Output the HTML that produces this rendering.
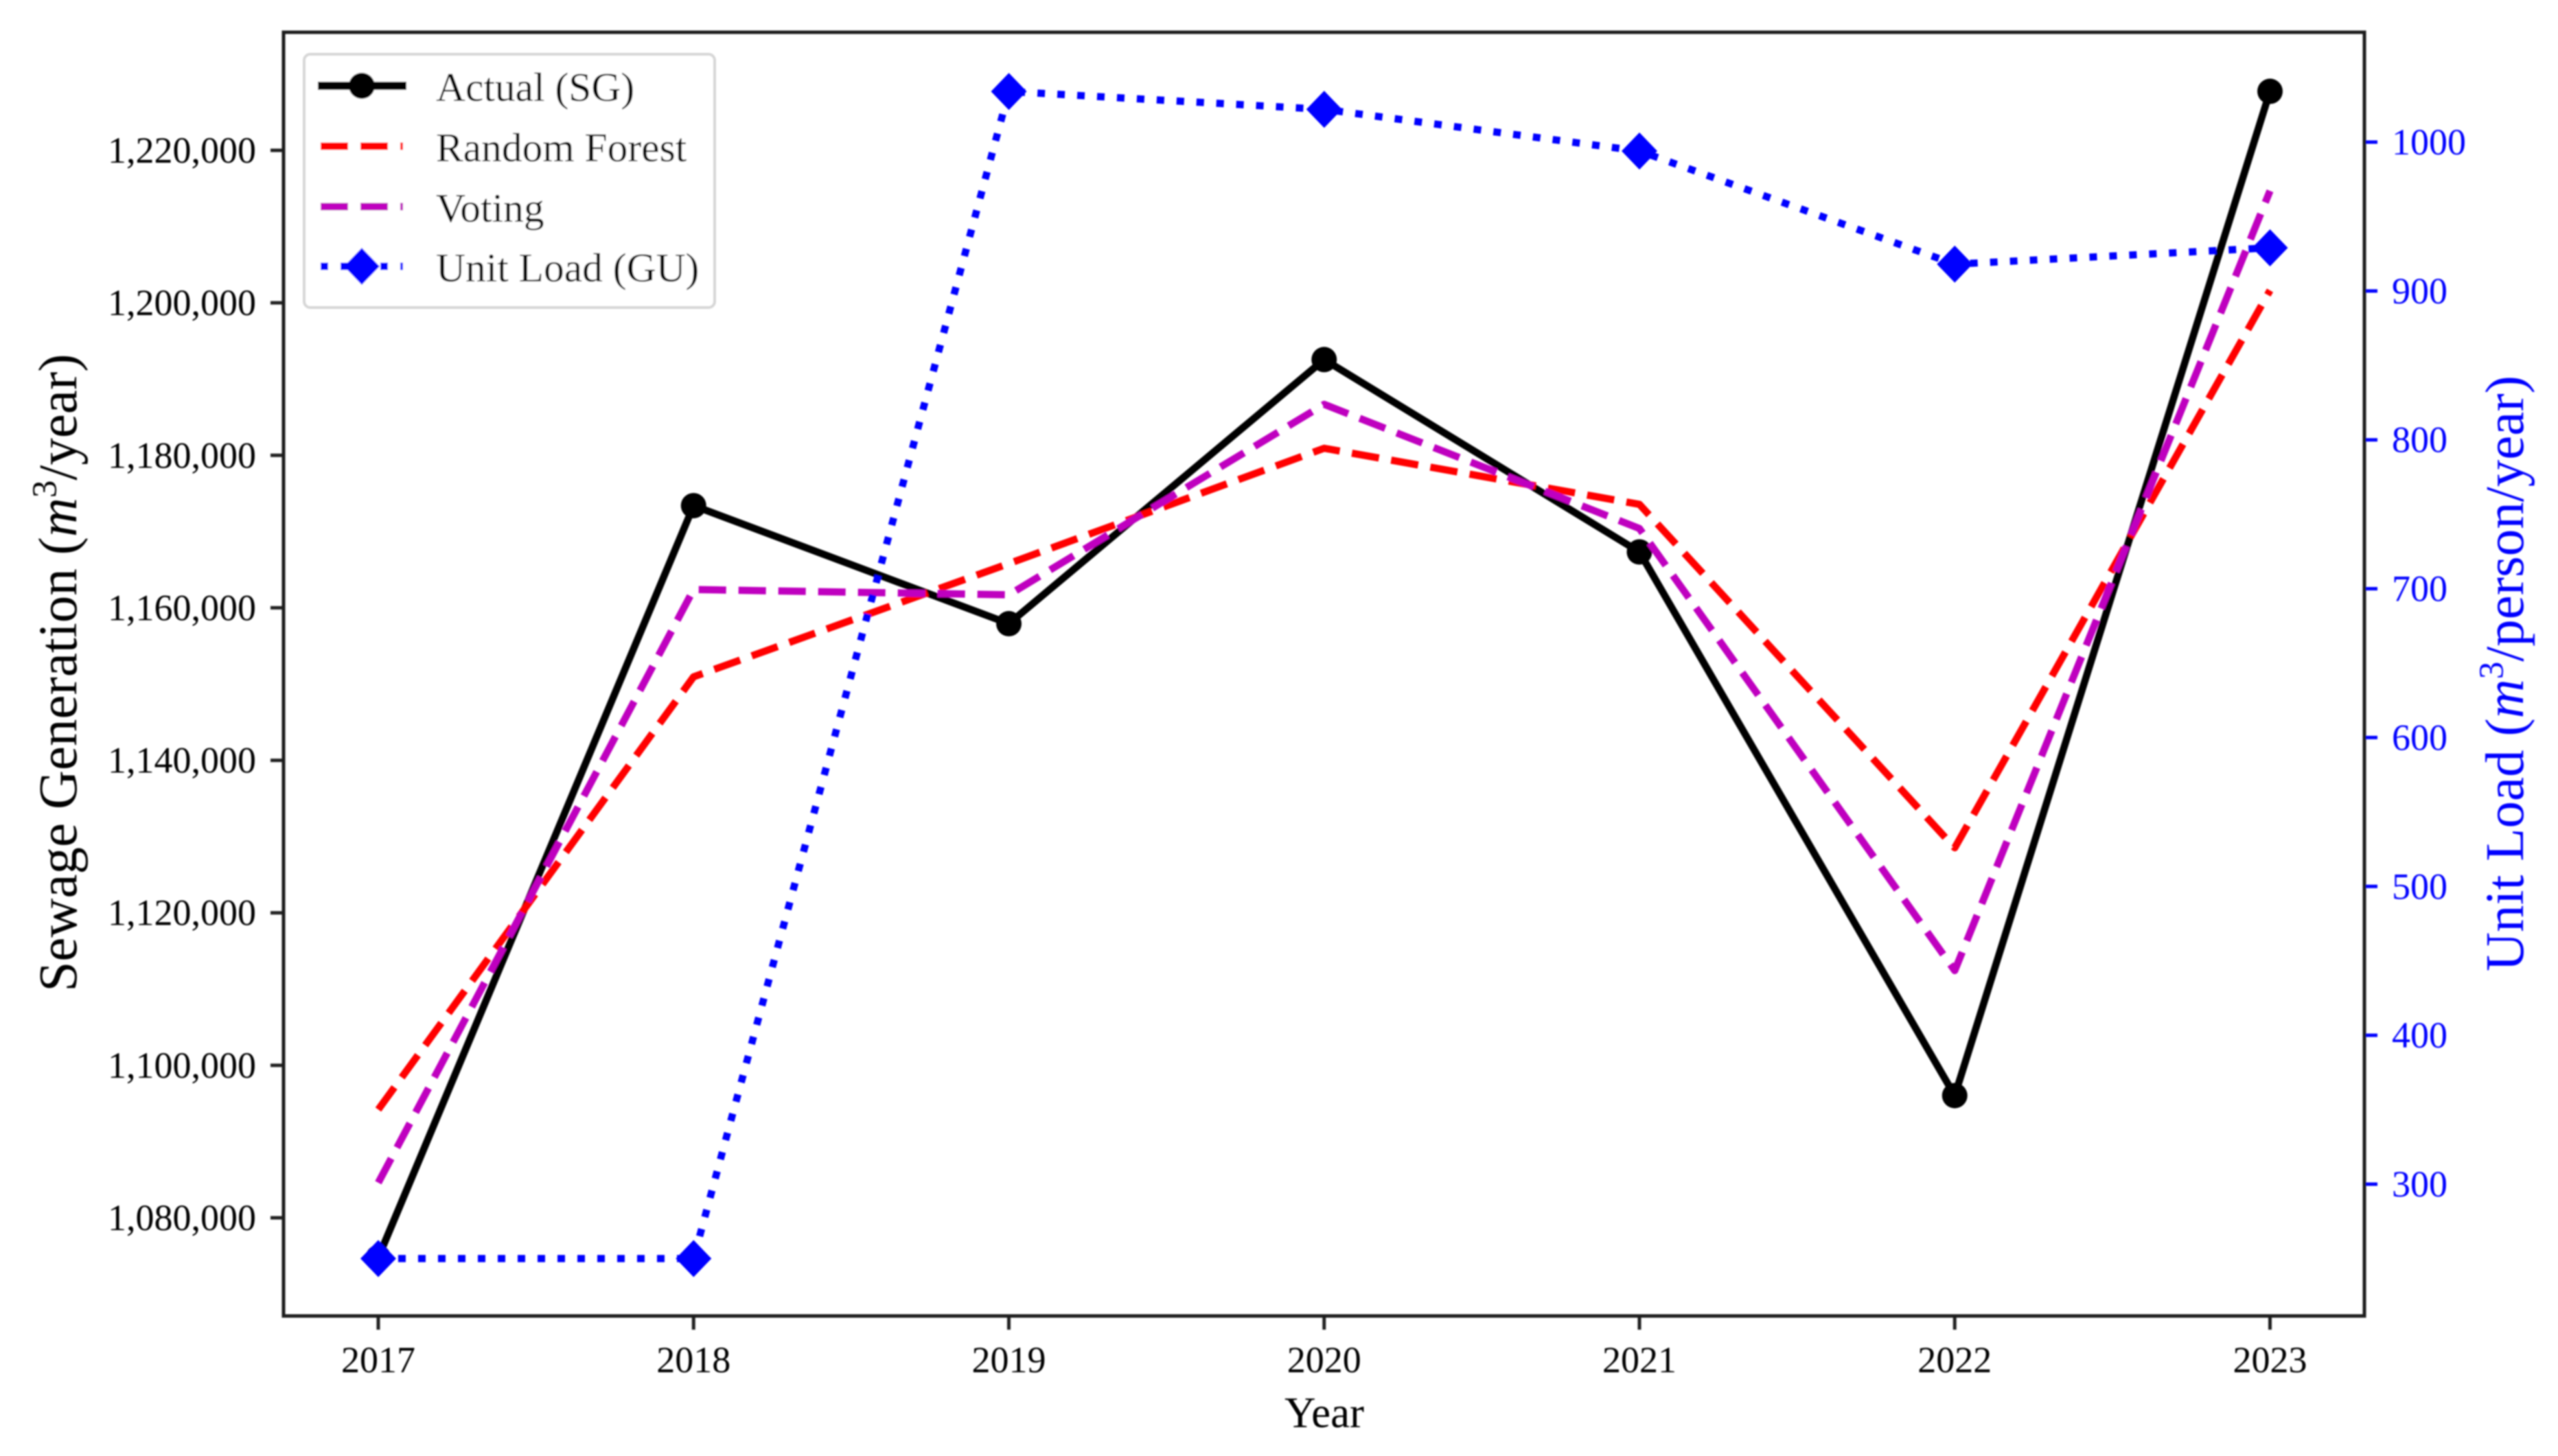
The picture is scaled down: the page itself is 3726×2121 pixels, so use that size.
<!DOCTYPE html>
<html lang="en">
<head>
<meta charset="utf-8">
<title>Sewage Generation and Unit Load, 2017-2023</title>
<style>
html,body{margin:0;padding:0;background:#fff;width:3726px;height:2121px;overflow:hidden}
svg{display:block}
text{font-family:"Liberation Serif","Times New Roman",serif}
</style>
</head>
<body>
<svg id="chart" xmlns="http://www.w3.org/2000/svg" width="3726" height="2121" viewBox="0 0 3726 2121">
<defs>
<filter id="soft" x="0" y="0" width="100%" height="100%" filterUnits="userSpaceOnUse" primitiveUnits="userSpaceOnUse">
<feGaussianBlur stdDeviation="1"/>
</filter>
</defs>
<rect width="3726" height="2121" fill="#fff"/>
<g id="root" filter="url(#soft)">
<g id="series-layer"></g>
<g id="axis-layer"></g>
<text x="1929" y="2079" font-size="63" text-anchor="middle" fill="#000">Year</text>
<text transform="translate(111,980) rotate(-90)" font-size="79" text-anchor="middle" fill="#000">Sewage Generation (<tspan font-style="italic">m</tspan><tspan font-size="51" dy="-29">3</tspan><tspan dy="29">/year)</tspan></text>
<text transform="translate(3675,981) rotate(-90)" font-size="79" text-anchor="middle" fill="#0000ff">Unit Load (<tspan font-style="italic">m</tspan><tspan font-size="51" dy="-29">3</tspan><tspan dy="29">/person/year)</tspan></text>
<g>
<rect x="443" y="79" width="598" height="369" rx="9" ry="9" fill="#fff" stroke="#d6d6d6" stroke-width="4"/>
<g>
<line x1="463" x2="592" y1="125" y2="125" stroke="#000" stroke-width="12"/>
<circle cx="527" cy="125" r="19" fill="#000"/>
<text x="635" y="147" font-size="59.5" fill="#000">Actual (SG)</text>
</g>
<g>
<line x1="467" x2="587" y1="213" y2="213" stroke="#ff0000" stroke-width="11" stroke-dasharray="40 18"/>
<text x="635" y="235" font-size="59.5" fill="#000">Random Forest</text>
</g>
<g>
<line x1="467" x2="587" y1="301" y2="301" stroke="#bf00bf" stroke-width="11" stroke-dasharray="40 18"/>
<text x="635" y="323" font-size="59.5" fill="#000">Voting</text>
</g>
<g>
<line x1="467" x2="587" y1="388" y2="388" stroke="#0000ff" stroke-width="11" stroke-dasharray="11 18"/>
<polygon points="527,361 553,388 527,415 501,388" fill="#0000ff"/>
<text x="635" y="410" font-size="59.5" fill="#000">Unit Load (GU)</text>
</g>
</g>
</g>
</svg>
<script>
const years = [2017, 2018, 2019, 2020, 2021, 2022, 2023];
const actualSG = [1074780, 1173400, 1157920, 1192560, 1167330, 1096030, 1227740];
const randomForest = [1094200, 1150950, 1165800, 1180930, 1173570, 1128530, 1201630];
const voting = [1084600, 1162400, 1161700, 1186690, 1170400, 1112420, 1214690];
const unitLoadGU = [250, 250, 1034, 1022, 994, 918, 929];
const leftTicks = [1080000, 1100000, 1120000, 1140000, 1160000, 1180000, 1200000, 1220000];
const rightTicks = [300, 400, 500, 600, 700, 800, 900, 1000];

const NS = 'http://www.w3.org/2000/svg';
const plot = { left: 413, right: 3444, top: 47, bottom: 1917 };

function xScale(year) {
  return 551 + (year - 2017) * (3306.5 - 551) / 6;
}
function yLeft(value) {
  return 219 + (1220000 - value) * (1774 - 219) / 140000;
}
function yRight(value) {
  return 207 + (1000 - value) * (1725 - 207) / 700;
}
function make(parent, tag, name, attrs) {
  const el = document.createElementNS(NS, tag);
  
  
  Object.keys(attrs).forEach(function (k) { el.setAttribute(k, attrs[k]); });
  parent.appendChild(el);
  return el;
}

const seriesLayer = document.getElementById('series-layer');
const axisLayer = document.getElementById('axis-layer');

function drawLine(name, values, yFn, color, dash) {
  const pts = values.map(function (v, i) { return xScale(years[i]).toFixed(1) + ',' + yFn(v).toFixed(1); }).join(' ');
  const attrs = { points: pts, fill: 'none', stroke: color, 'stroke-width': 10.5, 'stroke-linejoin': 'round' };
  if (dash) attrs['stroke-dasharray'] = dash;
  make(seriesLayer, 'polyline', name, attrs);
}

drawLine('line-actual-sg', actualSG, yLeft, '#000', null);
actualSG.forEach(function (v, i) {
  make(seriesLayer, 'circle', 'point-actual-' + years[i], { cx: xScale(years[i]), cy: yLeft(v), r: 18.5, fill: '#000' });
});
drawLine('line-random-forest', randomForest, yLeft, '#ff0000', '40 18');
drawLine('line-voting', voting, yLeft, '#bf00bf', '40 18');
drawLine('line-unit-load-gu', unitLoadGU, yRight, '#0000ff', '11 18');
unitLoadGU.forEach(function (v, i) {
  const cx = xScale(years[i]);
  const cy = yRight(v);
  const pts = [cx, cy - 27, cx + 26, cy, cx, cy + 27, cx - 26, cy].map(function (n) { return n.toFixed(1); }).join(' ');
  make(seriesLayer, 'polygon', 'point-unit-load-' + years[i], { points: pts, fill: '#0000ff' });
});

leftTicks.forEach(function (v) {
  const y = yLeft(v);
  make(axisLayer, 'line', 'left-y-tick-' + v, { x1: plot.left - 19, x2: plot.left, y1: y, y2: y, stroke: '#222', 'stroke-width': 5 });
  const t = make(axisLayer, 'text', 'left-y-tick-label-' + v, { x: 373, y: y + 18, 'font-size': 54, 'text-anchor': 'end', fill: '#000' });
  t.textContent = v.toLocaleString('en-US');
});
rightTicks.forEach(function (v) {
  const y = yRight(v);
  make(axisLayer, 'line', 'right-y-tick-' + v, { x1: plot.right, x2: plot.right + 19, y1: y, y2: y, stroke: '#0000ff', 'stroke-width': 5 });
  const t = make(axisLayer, 'text', 'right-y-tick-label-' + v, { x: 3484, y: y + 18, 'font-size': 54, fill: '#0000ff' });
  t.textContent = String(v);
});
years.forEach(function (yr) {
  const x = xScale(yr);
  make(axisLayer, 'line', 'x-tick-' + yr, { x1: x, x2: x, y1: plot.bottom, y2: plot.bottom + 20, stroke: '#222', 'stroke-width': 5 });
  const t = make(axisLayer, 'text', 'x-tick-label-' + yr, { x: x, y: 1999, 'font-size': 54, 'text-anchor': 'middle', fill: '#000' });
  t.textContent = String(yr);
});
make(axisLayer, 'rect', 'plot-frame', { x: plot.left, y: plot.top, width: plot.right - plot.left, height: plot.bottom - plot.top, fill: 'none', stroke: '#1a1a1a', 'stroke-width': 5 });
</script>
</body>
</html>
